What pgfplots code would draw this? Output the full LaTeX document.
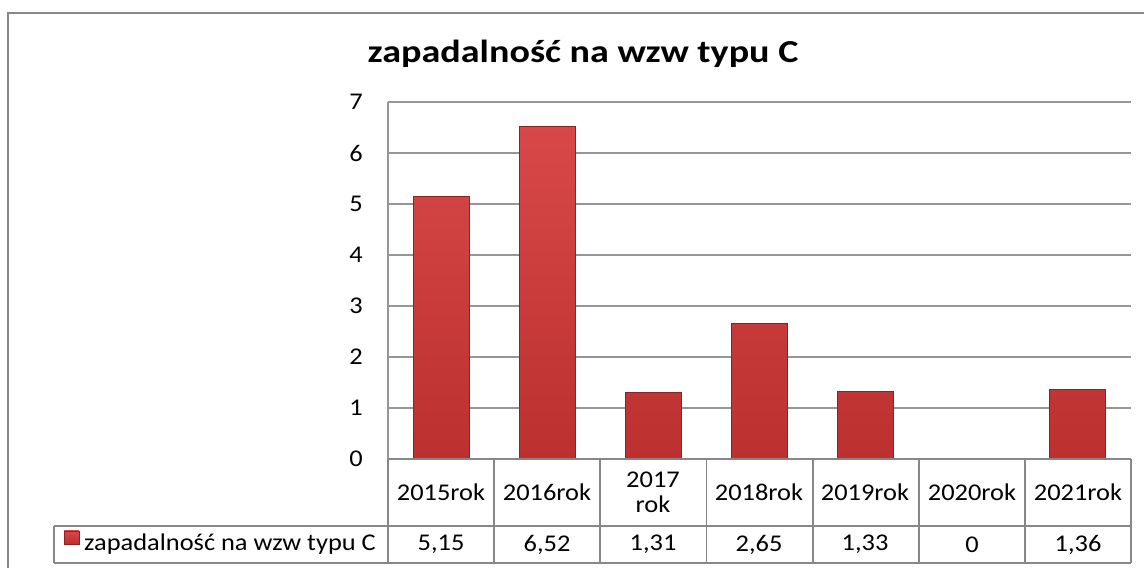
\documentclass[border=0pt]{standalone}
\usepackage{pgfplots}
\pgfplotsset{compat=1.18}
\usepackage{fontspec}
\setmainfont{Carlito}[FakeStretch=1.1]
\newfontfamily\titlefont{Carlito}[FakeStretch=1.19]
\definecolor{gridgray}{RGB}{150,150,150}
\definecolor{tabgray}{RGB}{135,135,135}
\definecolor{barred}{RGB}{212,66,66}
\definecolor{bartop}{RGB}{216,72,72}
\definecolor{barbot}{RGB}{188,48,48}
\definecolor{bardark}{RGB}{140,35,35}
\begin{document}
\begin{tikzpicture}[x=1pt,y=1pt]
\useasboundingbox (0,0) rectangle (1144,568);
% outer frame
\draw[tabgray,line width=1.6pt] (8,0) -- (8,555) -- (1144,555);
% title
\node[font=\titlefont\fontsize{32}{36}\selectfont\bfseries] at (583,514) {zapadalność na wzw typu C};
\begin{axis}[
  at={(388pt,109pt)}, anchor=south west,
  scale only axis, width=743pt, height=357pt,
  xmin=-0.5, xmax=6.5, ymin=0, ymax=7,
  ybar, bar width=56pt,
  axis x line=none,
  axis y line=left,
  y axis line style={-, draw=gridgray, line width=1.8pt},
  ymajorgrids, grid style={gridgray, line width=1.6pt},
  ytick={0,...,7},
  major tick length=0pt,
  yticklabel style={anchor=east, inner sep=0pt, xshift=-25pt, font=\fontsize{24}{28}\selectfont},
  /pgf/number format/assume math mode=true,
  xtick=data,
  clip=false,
]
\addplot[top color=bartop, bottom color=barbot, draw=bardark, line width=1pt] coordinates {
(0,5.15) (1,6.52) (2,1.31) (3,2.65) (4,1.33) (5,0) (6,1.36)};
\end{axis}
% data table
\begin{scope}[tabgray, line width=1.8pt]
\draw (388,109) -- (1131,109);
\draw (54,42) -- (1131,42);
\draw (54,5) -- (1131,5);
\draw (54,42) -- (54,5);
\foreach \xx in {388,494.1,600.3,706.4,812.6,918.7,1024.9,1131} {\draw (\xx,109) -- (\xx,5);}
\end{scope}
\begin{scope}[font=\fontsize{24}{28}\selectfont]
\node at (441,75.5) {2015rok};
\node at (547,75.5) {2016rok};
\node[align=center, font=\fontsize{24}{25}\selectfont] at (653,75.5) {2017\\rok};
\node at (759,75.5) {2018rok};
\node at (865,75.5) {2019rok};
\node at (972,75.5) {2020rok};
\node at (1078,75.5) {2021rok};
\node at (441,23.5) {5,15};
\node at (547,23.5) {6,52};
\node at (653,23.5) {1,31};
\node at (759,23.5) {2,65};
\node at (865,23.5) {1,33};
\node at (972,23.5) {0};
\node at (1078,23.5) {1,36};
\shade[top color=bartop, bottom color=barbot, draw=bardark, line width=0.8pt] (64,37) rectangle (79,24);
\node[anchor=west, inner sep=0pt] at (84,23.5) {zapadalność na wzw typu C};
\end{scope}
\end{tikzpicture}
\end{document}
